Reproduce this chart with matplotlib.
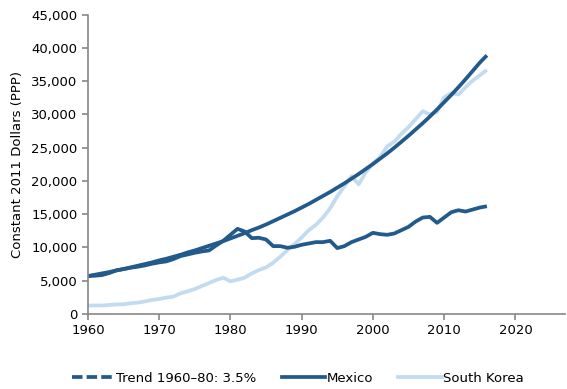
import numpy as np
import matplotlib
matplotlib.use('Agg')
from matplotlib import pyplot as plt
from matplotlib.lines import Line2D

# Values (constant 2011 dollars, PPP)
years = list(range(1960, 2017))

trend = [5700, 5900, 6100, 6300, 6550, 6750, 7000, 7250, 7500, 7750,
         8050, 8300, 8600, 8900, 9250, 9550, 9900, 10250, 10600, 10950,
         11350, 11750, 12150, 12600, 13000, 13450, 13950, 14450, 14950, 15450,
         16000, 16550, 17150, 17750, 18350, 19000, 19650, 20350, 21050, 21800,
         22550, 23350, 24150, 25000, 25900, 26800, 27750, 28700, 29700, 30750,
         31850, 32950, 34100, 35300, 36550, 37800, 38900]

mexico = [5700, 5750, 5850, 6150, 6550, 6750, 6950, 7100, 7300, 7550,
          7750, 7900, 8250, 8700, 8950, 9200, 9400, 9550, 10300, 11000,
          11900, 12800, 12400, 11400, 11450, 11200, 10200, 10200, 9950, 10100,
          10400, 10600, 10800, 10800, 11000, 9900, 10200, 10800, 11200, 11600,
          12200, 12000, 11900, 12100, 12600, 13100, 13900, 14500, 14600, 13700,
          14500, 15300, 15600, 15400, 15700, 16000, 16200]

korea = [1250, 1280, 1260, 1350, 1420, 1450, 1600, 1700, 1880, 2100,
         2250, 2450, 2600, 3100, 3400, 3750, 4200, 4650, 5100, 5450,
         4900, 5150, 5450, 6100, 6600, 7000, 7700, 8600, 9600, 10500,
         11500, 12600, 13400, 14500, 15900, 17700, 19200, 20700, 19500, 21300,
         22600, 23600, 25200, 25900, 27100, 28100, 29300, 30500, 30000, 30400,
         32600, 33200, 33000, 34100, 35100, 35900, 36700]

dark = '#225a8c'
light = '#c3dbf0'

fig = plt.figure(figsize=(5.67, 3.89), dpi=100)
ax = fig.add_axes([0.155, 0.193, 0.842, 0.769])

ax.plot(years, korea, color=light, lw=2.7, solid_capstyle='butt')
ax.plot(years, trend, color=dark, lw=2.7, solid_capstyle='butt')
ax.plot(years, mexico, color=dark, lw=2.7, solid_capstyle='butt')

ax.set_xlim(1960, 2027)
ax.set_ylim(0, 45000)
ax.set_xticks([1960, 1970, 1980, 1990, 2000, 2010, 2020])
ax.set_yticks(np.arange(0, 45001, 5000))
ax.yaxis.set_major_formatter(matplotlib.ticker.FuncFormatter(lambda v, p: f'{int(v):,}'))

for s in ['top', 'right']:
    ax.spines[s].set_visible(False)
for s in ['left', 'bottom']:
    ax.spines[s].set_color('#888888')
    ax.spines[s].set_linewidth(1.2)
ax.tick_params(axis='both', colors='#888888', labelcolor='black', labelsize=9.5, length=4, width=1.2)
ax.set_ylabel('Constant 2011 Dollars (PPP)', fontsize=9.5, labelpad=5)

handles = [Line2D([], [], color=dark, lw=2.7, linestyle=(0, (2.8, 1.1))),
           Line2D([], [], color=dark, lw=2.7),
           Line2D([], [], color=light, lw=2.7)]
labels = ['Trend 1960\u201380: 3.5%', 'Mexico', 'South Korea']
fig.legend(handles, labels, loc='lower center', bbox_to_anchor=(0.525, -0.02), ncol=3,
           frameon=False, fontsize=9.5, handlelength=3.3, handletextpad=0.1, columnspacing=1.9)

fig.savefig('out.png', dpi=100)
